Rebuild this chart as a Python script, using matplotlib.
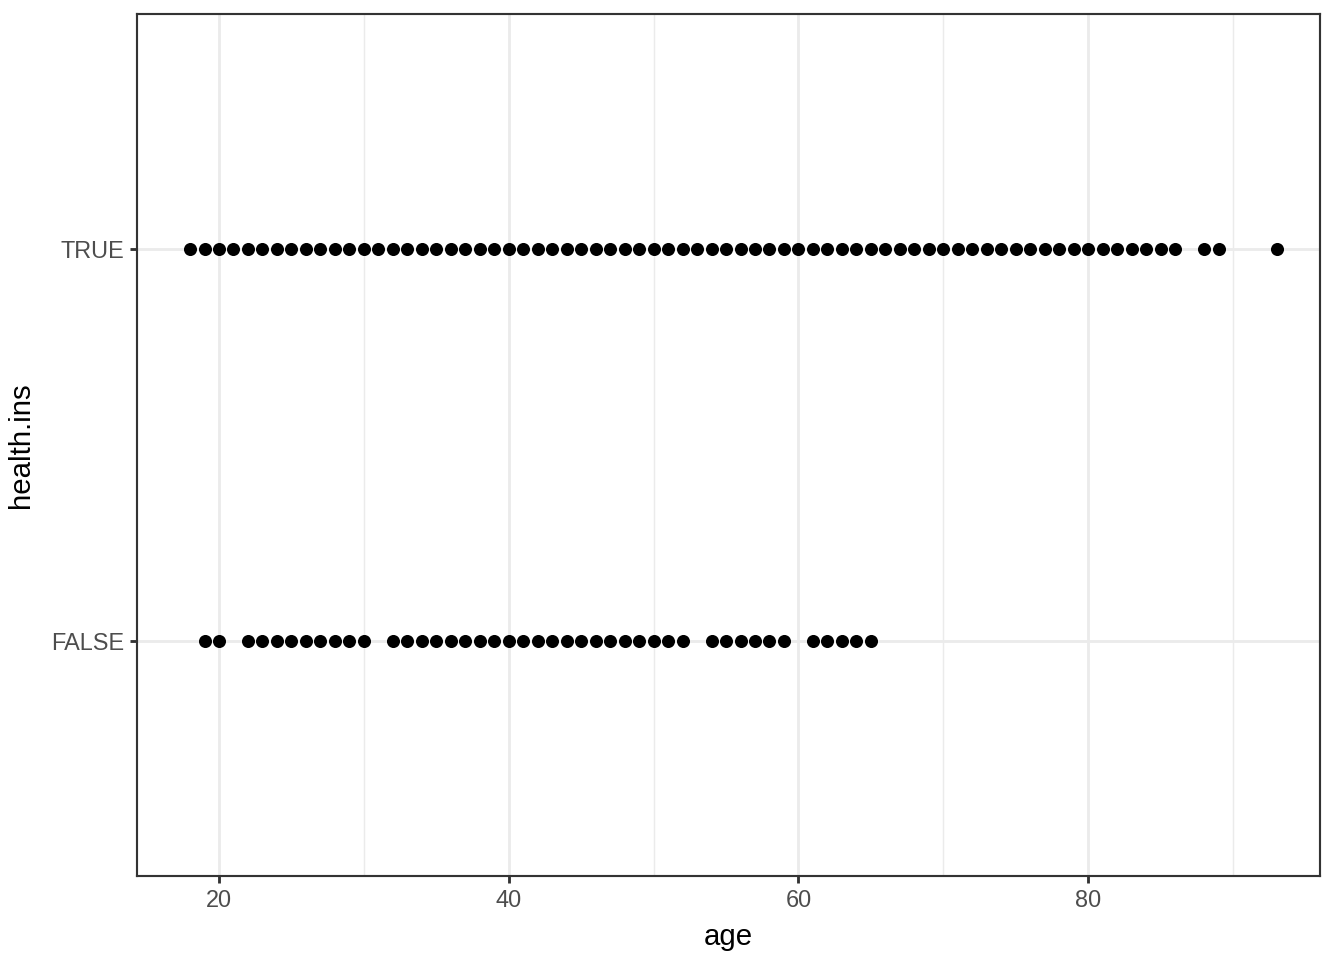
import matplotlib
matplotlib.use("Agg")
import matplotlib.pyplot as plt

# age values seen for each health.ins level
true_ages = list(range(18, 87)) + [88, 89, 93]
false_ages = [19, 20] + list(range(22, 31)) + list(range(32, 53)) + list(range(54, 60)) + list(range(61, 66))
levels = ["FALSE", "TRUE"]

plt.rcParams['font.family'] = ['Liberation Sans', 'DejaVu Sans']

fig = plt.figure(figsize=(7, 5), dpi=192)
ax = fig.add_axes([137 / 1344, 84 / 960, 1183 / 1344, 862 / 960])

ax.scatter(false_ages, [0] * len(false_ages), s=24, color='black', linewidths=0, zorder=3)
ax.scatter(true_ages, [1] * len(true_ages), s=24, color='black', linewidths=0, zorder=3)

ax.set_xlim(14.34, 96.0)
ax.set_ylim(-0.6, 1.6)
ax.set_xticks([20, 40, 60, 80])
ax.set_xticks([30, 50, 70, 90], minor=True)
ax.set_yticks([0, 1])
ax.set_yticklabels(levels)

ax.grid(which='major', color='#EBEBEB', linewidth=1.07)
ax.grid(which='minor', axis='x', color='#EBEBEB', linewidth=0.53)
ax.set_axisbelow(True)

ax.tick_params(which='major', length=2.75, width=1.07, color='#333333',
               labelsize=8.8, labelcolor='#4D4D4D', pad=2.2)
ax.tick_params(which='minor', length=0)
for sp in ax.spines.values():
    sp.set_color('#333333')
    sp.set_linewidth(0.8)

ax.set_xlabel('age', fontsize=11, labelpad=4)
ax.set_ylabel('health.ins', fontsize=11, labelpad=6)

fig.savefig('out.png', dpi=192)
